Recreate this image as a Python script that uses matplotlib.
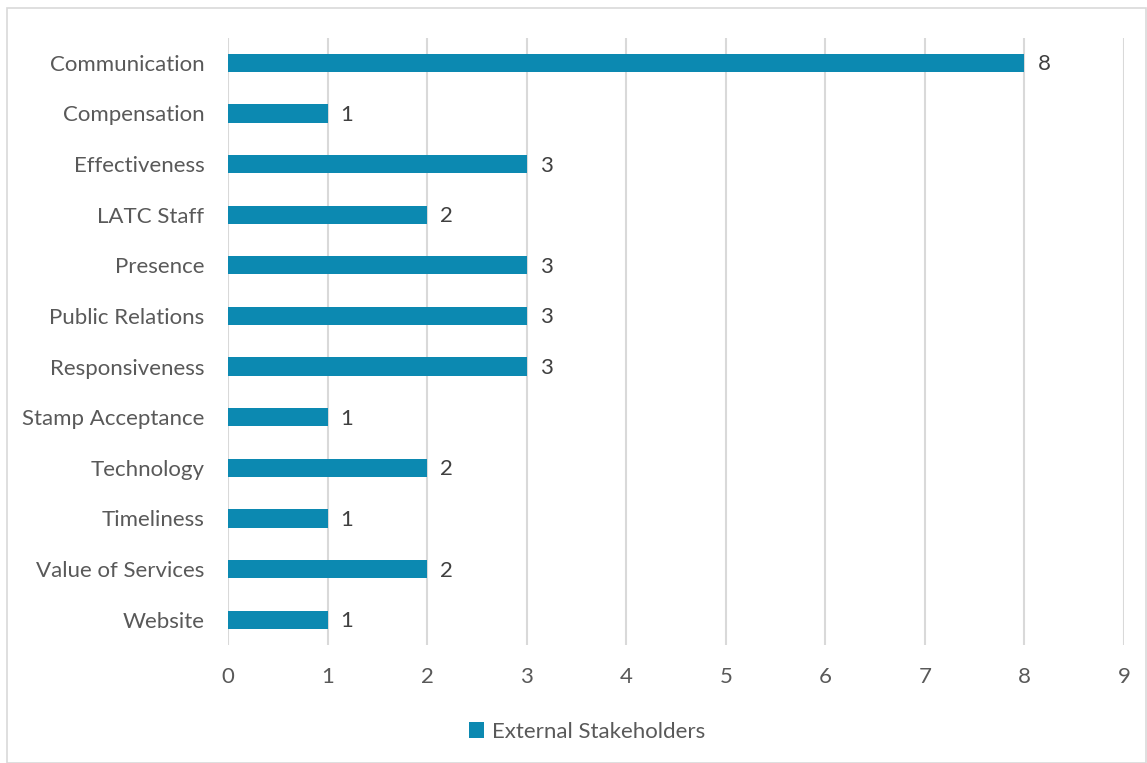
import matplotlib.pyplot as plt
from matplotlib.patches import Rectangle

categories = ["Communication", "Compensation", "Effectiveness", "LATC Staff",
              "Presence", "Public Relations", "Responsiveness", "Stamp Acceptance",
              "Technology", "Timeliness", "Value of Services", "Website"]
counts = [8, 1, 3, 2, 3, 3, 3, 1, 2, 1, 2, 1]
series_name = "External Stakeholders"
x_ticks = list(range(0, 10))

bar_color = "#0C89B1"
text_color = "#595959"
grid_color = "#D9D9D9"

plt.rcParams["font.family"] = ["Lato", "DejaVu Sans"]

W, H = 1147, 763
fig = plt.figure(figsize=(W / 100, H / 100), dpi=100)

# outer chart frame
fig.patches.append(Rectangle((7 / W, 0.5 / H), (W - 8) / W, (H - 8.5) / H,
                             transform=fig.transFigure, fill=False,
                             edgecolor=grid_color, linewidth=1.2))

ax = fig.add_axes([228 / W, 1 - 645 / H, (1124 - 228) / W, (645 - 37.5) / H])

y = list(range(len(categories)))
bars = ax.barh(y, counts, height=0.36, color=bar_color, label=series_name,
               zorder=3)
for yi, v in zip(y, counts):
    ax.text(v + 0.13, yi + 0.03, str(v), va="center", ha="left", fontsize=16,
            color="#404040")

ax.set_ylim(len(categories) - 0.5, -0.5)
ax.set_xlim(0, 9)
ax.set_yticks(y)
ax.set_yticklabels(categories)
ax.set_xticks(x_ticks)
ax.tick_params(axis="both", length=0, labelsize=16, labelcolor=text_color)
ax.tick_params(axis="y", pad=17)
ax.tick_params(axis="x", pad=16)
ax.grid(axis="x", color=grid_color, linewidth=1.5, zorder=0)
for s in ax.spines.values():
    s.set_visible(False)

ax.legend(loc="center", bbox_to_anchor=(587 / W, 1 - 732 / H),
          bbox_transform=fig.transFigure, frameon=False,
          fontsize=16, labelcolor=text_color, handlelength=0.7,
          handleheight=0.7, handletextpad=0.35)

fig.savefig("out.png", dpi=100)
